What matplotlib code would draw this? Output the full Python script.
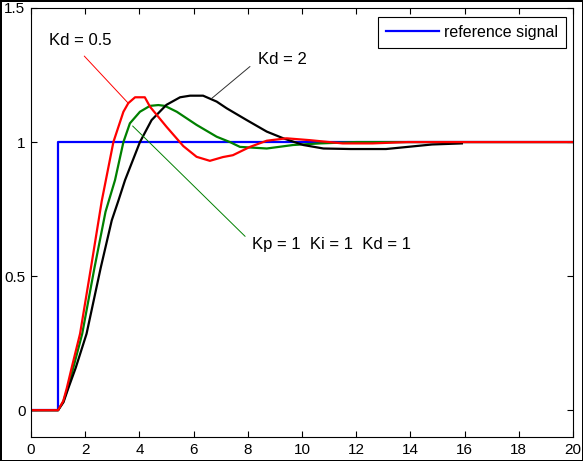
import matplotlib
matplotlib.use('Agg')
import matplotlib.pyplot as plt

plt.rcParams['font.family'] = ['Liberation Sans', 'DejaVu Sans']

# reference step
t_ref = [0, 1, 1, 20]
y_ref = [0, 0, 1, 1]

# Kd = 0.5 (red)
t_red = [0, 1.0, 1.19, 1.32, 1.50, 1.81, 2.21, 2.61, 3.04, 3.41, 3.59, 3.84, 4.2, 4.39,
         5.0, 5.62, 6.11, 6.6, 7.08, 7.45, 8.08, 8.7, 9.43, 10.3, 11.5, 12.6, 13.9, 20]
y_red = [0, 0, 0.034, 0.082, 0.158, 0.285, 0.53, 0.78, 1.0, 1.113, 1.145, 1.167, 1.167, 1.132,
         1.057, 0.985, 0.945, 0.93, 0.944, 0.951, 0.982, 1.005, 1.014, 1.007, 0.995, 0.995, 1.0, 1.0]

# Kd = 1 (green)
t_green = [0, 1.0, 1.19, 1.35, 1.56, 1.89, 2.34, 2.75, 3.1, 3.41, 3.65, 4.02, 4.39, 4.7, 4.94,
           5.38, 6.11, 6.85, 7.34, 7.71, 8.7, 9.67, 10.66, 12, 20]
y_green = [0, 0, 0.032, 0.08, 0.158, 0.285, 0.53, 0.74, 0.858, 1.0, 1.07, 1.113, 1.135, 1.138, 1.135,
           1.113, 1.064, 1.02, 1.0, 0.982, 0.976, 0.989, 0.995, 1.0, 1.0]

# Kd = 2 (black)
t_black = [0, 1.0, 1.2, 1.37, 1.65, 2.05, 2.57, 2.98, 3.22, 3.47, 4.02, 4.45, 5.0, 5.5, 5.87, 6.35,
           6.85, 7.22, 7.96, 8.7, 9.31, 10.05, 10.79, 11.8, 13.1, 13.9, 14.8, 15.9]
y_black = [0, 0, 0.03, 0.08, 0.158, 0.285, 0.53, 0.708, 0.78, 0.858, 1.0, 1.082, 1.139, 1.167, 1.173, 1.173,
           1.151, 1.126, 1.082, 1.039, 1.014, 0.989, 0.976, 0.974, 0.974, 0.982, 0.991, 0.995]

x_ticks = [0, 2, 4, 6, 8, 10, 12, 14, 16, 18, 20]
y_ticks = [0, 0.5, 1, 1.5]

fig = plt.figure(figsize=(5.83, 4.61), dpi=100, edgecolor='black', linewidth=2)
ax = fig.add_axes([31 / 583, 1 - 437 / 461, 542 / 583, 429 / 461])

ax.plot(t_ref, y_ref, color='#0000ff', lw=1.6, label='reference signal')
ax.plot(t_green, y_green, color='#008000', lw=1.6)
ax.plot(t_black, y_black, color='black', lw=1.6)
ax.plot(t_red, y_red, color='#ff0000', lw=1.6)

ax.set_xlim(0, 20)
ax.set_ylim(-0.1, 1.5)
ax.set_xticks(x_ticks)
ax.set_xticklabels([str(v) for v in x_ticks])
ax.set_yticks(y_ticks)
ax.set_yticklabels(['0', '0.5', '1', '1.5'])
ax.tick_params(direction='in', top=True, right=True, length=4, width=0.8,
               labelsize=11, pad=4)
for s in ax.spines.values():
    s.set_linewidth(0.8)

fs = 12
ax.annotate('Kd = 0.5', xy=(3.57, 1.147), xytext=(1.81, 1.378),
            ha='center', va='center', fontsize=fs,
            arrowprops=dict(arrowstyle='-', color='#ff0000', lw=0.7,
                            shrinkA=5, shrinkB=0, relpos=(0.45, 0)))
ax.annotate('Kd = 2', xy=(6.67, 1.163), xytext=(8.38, 1.307),
            ha='left', va='center', fontsize=fs,
            arrowprops=dict(arrowstyle='-', color='#303030', lw=0.7,
                            shrinkA=5, shrinkB=0, relpos=(0, 0.5)))
ax.annotate('Kp = 1  Ki = 1  Kd = 1', xy=(3.75, 1.06), xytext=(8.15, 0.618),
            ha='left', va='center', fontsize=fs,
            arrowprops=dict(arrowstyle='-', color='#008000', lw=0.7,
                            shrinkA=4, shrinkB=0, relpos=(0, 0.6)))

leg = ax.legend(loc='upper right', bbox_to_anchor=(0.987, 0.979), borderaxespad=0,
                fancybox=False, edgecolor='black', framealpha=1, fontsize=11.5,
                handlelength=3.3, handletextpad=0.3, borderpad=0.5)
leg.get_frame().set_linewidth(0.8)

fig.savefig('out.png', dpi=100)
